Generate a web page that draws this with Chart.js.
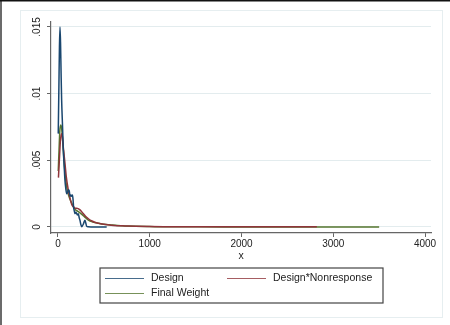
<!DOCTYPE html>
<html>
<head>
<meta charset="utf-8">
<script src="https://cdn.jsdelivr.net/npm/chart.js@4/dist/chart.umd.min.js"></script>
<style>
html, body { margin: 0; padding: 0; background: #fff; }
</style>
</head>
<body>
<canvas id="chart" width="450" height="325"></canvas>
<script>
// series labels
const seriesNames = ['Design', 'Design*Nonresponse', 'Final Weight'];

// Design
const designX = [3, 10, 16, 22, 28, 34, 40, 50, 58, 68, 76, 85, 95, 105, 115, 123, 132, 140, 149, 158, 165, 170, 178, 185, 195, 204, 213, 222, 231, 240, 249, 258, 267, 276, 285, 294, 303, 313, 330, 360, 400, 450, 500, 531];
const designY = [0.0070, 0.0105, 0.0135, 0.0150, 0.0138, 0.0115, 0.0095, 0.0075, 0.0058, 0.0045, 0.0035, 0.0029, 0.0025, 0.0026, 0.0028, 0.0027, 0.0023, 0.0024, 0.0023, 0.0024, 0.0020, 0.0015, 0.0012, 0.0010, 0.0011, 0.0010, 0.0009, 0.0010, 0.0007, 0.0005, 0.0002, 0.00002, 0.0001, 0.0002, 0.0004, 0.0005, 0.0003, 0.00005, 0.00001, 0, 0, 0, 0, 0];

// Design*Nonresponse
const nonrespX = [5, 15, 25, 36, 45, 55, 65, 76, 90, 112, 130, 149, 170, 190, 204, 220, 240, 258, 280, 300, 331, 370, 400, 440, 500, 580, 650, 730, 850, 1000, 1200, 1500, 1800, 2100, 2400, 2600, 2821];
const nonrespY = [0.0037, 0.0050, 0.0063, 0.0070, 0.0069, 0.0062, 0.0055, 0.0048, 0.0038, 0.0028, 0.0022, 0.0017, 0.0015, 0.0014, 0.0014, 0.00138, 0.00128, 0.00115, 0.00098, 0.0008, 0.00062, 0.00045, 0.00036, 0.00028, 0.0002, 0.00013, 0.0001, 0.00008, 0.00005, 0.00003, 0.00002, 0.00001, 0.00001, 0.00001, 0.00001, 0.00001, 0.00001];

// Final Weight
const finalX = [3, 12, 20, 30, 40, 50, 58, 70, 82, 95, 110, 130, 149, 170, 190, 222, 260, 300, 331, 380, 440, 500, 580, 650, 730, 850, 1000, 1200, 1500, 2000, 2500, 3000, 3500];
const finalY = [0.0042, 0.0058, 0.0072, 0.00765, 0.0074, 0.0066, 0.0058, 0.0046, 0.0037, 0.0030, 0.0025, 0.0021, 0.0018, 0.0015, 0.0013, 0.00115, 0.00095, 0.0007, 0.00052, 0.00038, 0.00028, 0.0002, 0.00015, 0.00011, 0.00008, 0.00005, 0.00003, 0.00001, 0.00001, 0.000005, 0.000003, 0.000002, 0.000001];

const xTicks = [0, 1000, 2000, 3000, 4000];
const yTicks = [0, 0.005, 0.01, 0.015];
const yTickLabels = ['0', '.005', '.01', '.015'];

const colors = ['#1a476f', '#90353b', '#55752f'];
const FONT = 'Liberation Sans, Arial, Helvetica, sans-serif';

const toPoints = (xs, ys) => xs.map((x, i) => ({ x: x, y: ys[i] }));

// outer frame like the stata graph region
const framePlugin = {
	id: 'frame',
	beforeDraw(chart) {
		const ctx = chart.ctx;
		ctx.save();
		ctx.fillStyle = '#fff';
		ctx.fillRect(0, 0, chart.width, chart.height);
		ctx.strokeStyle = '#e6eef0';
		ctx.lineWidth = 1;
		ctx.strokeRect(20.5, 10.5, 422, 307);
		ctx.fillStyle = '#6b6b6b';
		ctx.fillRect(0, 0, 2, chart.height);
		ctx.fillStyle = '#111';
		ctx.fillRect(0, 0, chart.width, 1.5);
		ctx.restore();
	}
};

// rotated y tick labels, centred on the tick
const yLabelPlugin = {
	id: 'yLabels',
	afterDraw(chart) {
		const ctx = chart.ctx;
		const ys = chart.scales.y;
		ctx.save();
		ctx.fillStyle = '#222';
		ctx.font = '10px ' + FONT;
		ctx.textAlign = 'center';
		ctx.textBaseline = 'middle';
		yTicks.forEach((v, i) => {
			ctx.save();
			ctx.translate(37.5, ys.getPixelForValue(v));
			ctx.rotate(-Math.PI / 2);
			ctx.fillText(yTickLabels[i], 0, 0);
			ctx.restore();
		});
		ctx.restore();
	}
};

// two-column boxed legend
const legendPlugin = {
	id: 'boxLegend',
	afterDraw(chart) {
		const ctx = chart.ctx;
		ctx.save();
		ctx.strokeStyle = '#444';
		ctx.lineWidth = 1.2;
		ctx.strokeRect(100, 268, 283, 35);
		ctx.font = '10.5px ' + FONT;
		ctx.textBaseline = 'middle';
		ctx.textAlign = 'left';
		const cols = [105, 227];
		const rows = [278.5, 293.5];
		chart.data.datasets.forEach((ds, i) => {
			const x = cols[i % 2];
			const y = rows[Math.floor(i / 2)];
			ctx.strokeStyle = ds.borderColor;
			ctx.lineWidth = 1;
			ctx.globalAlpha = 0.8;
			ctx.beginPath();
			ctx.moveTo(x, y);
			ctx.lineTo(x + 39, y);
			ctx.stroke();
			ctx.globalAlpha = 1;
			ctx.fillStyle = '#222';
			ctx.fillText(ds.label, x + 46, y);
		});
		ctx.restore();
	}
};

const ctx = document.getElementById('chart');
new Chart(ctx, {
	type: 'line',
	data: {
		datasets: [
			{ label: seriesNames[0], data: toPoints(designX, designY), borderColor: colors[0] },
			{ label: seriesNames[1], data: toPoints(nonrespX, nonrespY), borderColor: colors[1] },
			{ label: seriesNames[2], data: toPoints(finalX, finalY), borderColor: colors[2] }
		]
	},
	options: {
		responsive: false,
		animation: false,
		devicePixelRatio: 1,
		layout: { padding: { left: 20, right: 19, top: 22, bottom: 59 } },
		elements: {
			point: { radius: 0 },
			line: { borderWidth: 1.5, cubicInterpolationMode: 'monotone' }
		},
		plugins: {
			legend: { display: false },
			tooltip: { enabled: false }
		},
		scales: {
			x: {
				type: 'linear',
				min: -76,
				max: 4065,
				afterBuildTicks: s => { s.ticks = xTicks.map(v => ({ value: v })); },
				afterFit: s => { s.height = 33; },
				grid: { drawOnChartArea: false, tickLength: 4, tickColor: '#666' },
				border: { color: '#666', width: 1.2 },
				ticks: { font: { family: FONT, size: 10 }, color: '#222', padding: 1, maxRotation: 0, callback: v => String(v) },
				title: { display: true, text: 'x', font: { family: FONT, size: 10.5 }, color: '#222', padding: { top: 0, bottom: 4 } }
			},
			y: {
				type: 'linear',
				min: -0.00045,
				max: 0.01537,
				afterBuildTicks: s => { s.ticks = yTicks.map(v => ({ value: v })); },
				afterFit: s => { s.width = 31; },
				grid: { color: '#e3ecee', tickLength: 4, tickColor: '#666' },
				border: { color: '#666', width: 1.2 },
				ticks: { color: 'rgba(0,0,0,0)', font: { size: 10 } }
			}
		}
	},
	plugins: [framePlugin, yLabelPlugin, legendPlugin]
});
</script>
</body>
</html>
